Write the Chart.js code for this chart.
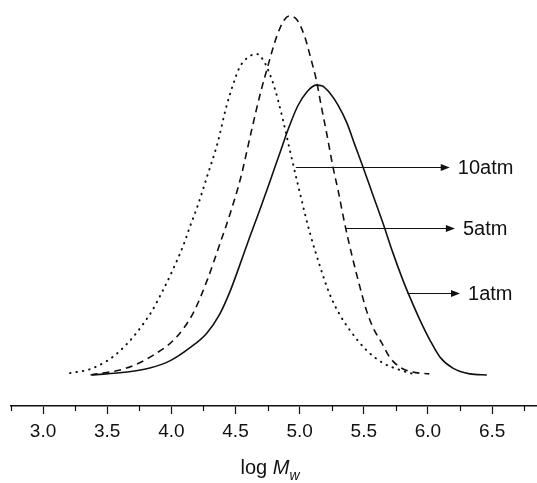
<!DOCTYPE html>
<html>
<head>
<meta charset="utf-8">
<script src="https://cdn.jsdelivr.net/npm/chart.js@4/dist/chart.umd.min.js"></script>
<style>
  html, body { margin: 0; padding: 0; background: #fff; }
</style>
</head>
<body>
<canvas id="mwChart" width="537" height="483"></canvas>
<script>
// GPC curves, log Mw vs normalised signal
const atm10X = [3.21, 3.39, 3.60, 3.83, 3.93, 4.01, 4.09, 4.14, 4.21, 4.28, 4.36, 4.43, 4.48, 4.53, 4.60, 4.67, 4.72, 4.76, 4.81, 4.87, 4.92, 5.00, 5.08, 5.16, 5.23, 5.31, 5.39, 5.52, 5.65, 5.78, 5.91];
const atm10Y = [0.008, 0.022, 0.07, 0.17, 0.235, 0.294, 0.36, 0.41, 0.478, 0.556, 0.647, 0.75, 0.808, 0.856, 0.886, 0.894, 0.875, 0.845, 0.794, 0.711, 0.633, 0.511, 0.397, 0.303, 0.231, 0.172, 0.128, 0.072, 0.036, 0.017, 0.003];

const atm5X = [3.37, 3.65, 3.86, 4.04, 4.17, 4.28, 4.38, 4.46, 4.54, 4.63, 4.70, 4.75, 4.82, 4.88, 4.92, 4.98, 5.04, 5.09, 5.13, 5.17, 5.21, 5.26, 5.30, 5.35, 5.41, 5.47, 5.52, 5.57, 5.64, 5.70, 5.78, 5.88, 6.01];
const atm5Y = [0.003, 0.022, 0.058, 0.108, 0.175, 0.267, 0.369, 0.453, 0.55, 0.69, 0.794, 0.858, 0.942, 0.989, 1.0, 0.989, 0.942, 0.878, 0.822, 0.747, 0.675, 0.58, 0.515, 0.425, 0.331, 0.247, 0.183, 0.136, 0.092, 0.053, 0.025, 0.011, 0.006];

const atm1X = [3.380, 3.652, 3.832, 3.988, 4.143, 4.276, 4.377, 4.455, 4.533, 4.611, 4.689, 4.767, 4.845, 4.923, 4.985, 5.056, 5.126, 5.173, 5.235, 5.298, 5.368, 5.430, 5.493, 5.571, 5.649, 5.727, 5.804, 5.859, 5.937, 6.015, 6.093, 6.194, 6.326, 6.459];
const atm1Y = [0.003, 0.011, 0.022, 0.042, 0.078, 0.119, 0.172, 0.233, 0.308, 0.386, 0.461, 0.539, 0.619, 0.697, 0.75, 0.789, 0.808, 0.806, 0.786, 0.753, 0.703, 0.642, 0.581, 0.503, 0.425, 0.342, 0.267, 0.219, 0.156, 0.1, 0.053, 0.022, 0.006, 0.003];

const tickValues = [3.0, 3.5, 4.0, 4.5, 5.0, 5.5, 6.0, 6.5];
const minorTicks = [2.75, 3.25, 3.75, 4.25, 4.75, 5.25, 5.75, 6.25, 6.75];

// arrow labels: start x, y, end x
const arrowLabels = ['10atm', '5atm', '1atm'];
const arrowStartX = [4.97, 5.36, 5.84];
const arrowY = [0.581, 0.411, 0.231];
const arrowEndX = [6.17, 6.21, 6.25];

const FONT = "'Liberation Sans', Arial, sans-serif";
const INK = '#111';

function toPoints(xs, ys) {
    return xs.map((v, i) => ({ x: v, y: ys[i] }));
}

const extras = {
    id: 'extras',
    afterDraw(chart) {
        const { ctx, chartArea } = chart;
        const x = chart.scales.x, y = chart.scales.y;
        ctx.save();

        // minor ticks
        ctx.strokeStyle = INK;
        ctx.lineWidth = 1.2;
        const axisY = chartArea.bottom;
        minorTicks.forEach(v => {
            const px = Math.round(x.getPixelForValue(v)) + 0.5;
            ctx.beginPath();
            ctx.moveTo(px, axisY);
            ctx.lineTo(px, axisY + 5);
            ctx.stroke();
        });

        // arrows with labels
        ctx.font = '20px ' + FONT;
        ctx.textBaseline = 'middle';
        ctx.fillStyle = INK;
        ctx.lineWidth = 1.2;
        arrowLabels.forEach((lab, i) => {
            const x0 = x.getPixelForValue(arrowStartX[i]);
            const x1 = x.getPixelForValue(arrowEndX[i]);
            const py = Math.round(y.getPixelForValue(arrowY[i])) + 0.5;
            ctx.beginPath();
            ctx.moveTo(x0, py);
            ctx.lineTo(x1 - 6, py);
            ctx.stroke();
            ctx.beginPath();
            ctx.moveTo(x1, py);
            ctx.lineTo(x1 - 9, py - 3.5);
            ctx.lineTo(x1 - 9, py + 3.5);
            ctx.closePath();
            ctx.fill();
            ctx.textAlign = 'left';
            ctx.fillText(lab, x1 + 8, py + 1);
        });

        // axis title: log M_w
        const base = chart.height - 9;
        ctx.textBaseline = 'alphabetic';
        ctx.font = '20px ' + FONT;
        const w1 = ctx.measureText('log ').width;
        ctx.font = 'italic 20px ' + FONT;
        const w2 = ctx.measureText('M').width;
        ctx.font = 'italic 14px ' + FONT;
        const w3 = ctx.measureText('w').width;
        let tx = (chartArea.left + chartArea.right) / 2 - (w1 + w2 + w3) / 2 - 4;
        ctx.font = '20px ' + FONT;
        ctx.fillText('log ', tx, base);
        tx += w1;
        ctx.font = 'italic 20px ' + FONT;
        ctx.fillText('M', tx, base);
        tx += w2;
        ctx.font = 'italic 14px ' + FONT;
        ctx.fillText('w', tx, base + 6);

        ctx.restore();
    }
};

function createChart() {
    const ctx = document.getElementById('mwChart').getContext('2d');
    const common = {
        borderColor: INK,
        pointRadius: 0,
        fill: false,
        cubicInterpolationMode: 'monotone'
    };
    new Chart(ctx, {
        type: 'line',
        data: {
            datasets: [
                Object.assign({ label: '10atm', data: toPoints(atm10X, atm10Y), borderWidth: 2, borderDash: [0.5, 6], borderCapStyle: 'round' }, common),
                Object.assign({ label: '5atm', data: toPoints(atm5X, atm5Y), borderWidth: 1.6, borderDash: [7, 5] }, common),
                Object.assign({ label: '1atm', data: toPoints(atm1X, atm1Y), borderWidth: 1.6 }, common)
            ]
        },
        options: {
            responsive: false,
            animation: false,
            layout: { padding: { left: 11, right: 0, top: 0, bottom: 0 } },
            plugins: {
                legend: { display: false },
                tooltip: { enabled: false }
            },
            scales: {
                x: {
                    type: 'linear',
                    min: 2.75,
                    max: 6.85,
                    afterBuildTicks: s => { s.ticks = tickValues.map(v => ({ value: v })); },
                    afterFit: s => { s.height = 77; },
                    border: { display: true, color: INK, width: 1.6 },
                    grid: { display: true, drawOnChartArea: false, drawTicks: true, tickLength: 8, tickColor: INK, tickWidth: 1.2 },
                    ticks: {
                        padding: 6,
                        color: INK,
                        font: { family: FONT, size: 19 },
                        maxRotation: 0,
                        callback: v => Number(v).toFixed(1)
                    }
                },
                y: {
                    display: false,
                    min: -0.0833,
                    max: 1.0444
                }
            }
        },
        plugins: [extras]
    });
}

window.onload = createChart;
</script>
</body>
</html>
